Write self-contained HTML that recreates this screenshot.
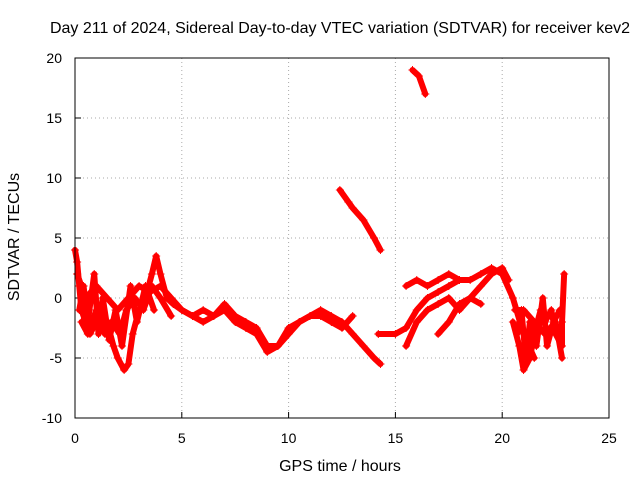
<!DOCTYPE html>
<html><head><meta charset="utf-8"><style>
body{margin:0;background:#fff;}
svg text{font-family:"Liberation Sans",sans-serif;font-size:14px;fill:#000;}
svg text.lab{font-size:16px;}
</style></head><body>
<svg id="chart" width="640" height="480">
<rect width="640" height="480" fill="#fff"/>
<text class="lab" x="340" y="33" text-anchor="middle">Day 211 of 2024, Sidereal Day-to-day VTEC variation (SDTVAR) for receiver kev2</text>
<text class="lab" x="340" y="471" text-anchor="middle">GPS time / hours</text>
<text class="lab" transform="translate(19,237) rotate(-90)" text-anchor="middle">SDTVAR / TECUs</text>
<g id="grid"></g><g id="ticks"></g><g id="marks"></g>
<rect x="75" y="58" width="534" height="360" fill="none" stroke="#000"/>
</svg>
<script>
const xTicks=[0,5,10,15,20,25];
const yTicks=[-10,-5,0,5,10,15,20];
const track1=[[0,4],[0.1,3],[0.2,1],[0.3,-1],[0.5,-2],[0.7,-3],[1,-2],[1.2,-1],[1.5,-2],[1.8,-4],[2,-5],[2.3,-6],[2.5,-5.5],[2.7,-3],[3,-1],[3.3,0],[3.6,2],[3.8,3.5],[4,2],[4.3,0],[4.6,-0.5],[5,-1],[5.5,-1.5],[6,-1],[6.5,-1.5],[7,-0.5],[7.5,-1.5],[8,-2],[8.5,-2.5],[9,-4],[9.5,-4],[10,-3],[10.5,-2],[11,-1.5],[11.5,-1],[12,-1.5],[12.5,-2],[13,-3],[13.5,-4],[14,-5],[14.3,-5.5]];
const track2=[[0.1,2],[0.5,0],[1,1],[1.5,0],[2,-1],[2.5,0],[3,1],[3.5,0.5],[4,1],[4.5,0],[5,-1],[5.5,-1.5],[6,-2],[6.5,-1.5],[7,-1],[7.5,-2],[8,-2.5],[8.5,-3],[9,-4.5],[9.5,-4],[10,-2.5],[10.5,-2],[11,-1.5],[11.5,-1.5],[12,-2],[12.5,-2.5],[13,-1.5]];
const track3=[[0.3,-2],[0.6,-3],[1,-1],[1.4,-3],[1.7,-2],[2.1,-3],[2.4,-1],[2.8,0],[3.2,-1],[3.6,1],[4,0],[4.5,-1.5]];
const track3b=[[0.2,-1],[0.4,1],[0.6,-2],[0.9,2],[1.1,-3],[1.3,0],[1.6,-3.5],[1.9,-1],[2.2,-4],[2.6,1],[2.9,-2],[3.3,1],[3.7,-1]];
const track4=[[12.4,9],[12.8,8],[13,7.5],[13.5,6.5],[14,5],[14.3,4]];
const track5=[[15.8,19],[16.1,18.5],[16.4,17]];
const track6=[[14.2,-3],[15,-3],[15.5,-2.5],[16,-1],[16.5,0],[17,0.5],[17.5,1],[18,1.5],[18.5,1.5],[19,2],[19.5,2.5],[20,2],[20.5,0],[21,-3],[21.5,-5]];
const track7=[[15.5,-4],[16,-2],[16.5,-1],[17,-0.5],[17.5,0],[18,-1],[18.5,0],[19,1],[19.5,2],[20,2.5],[20.3,1.5]];
const track8=[[15.5,1],[16,1.5],[16.5,1],[17,1.5],[17.5,2],[18,1.5]];
const track9=[[17,-3],[17.5,-2],[18,-0.5],[18.5,0],[19,-0.5]];
const track10=[[20.5,-2],[20.8,-4],[21,-6],[21.3,-5],[21.5,-3],[21.8,-1],[22,-2],[22.3,-1],[22.5,-3],[22.8,-4],[22.8,-2],[22.9,2]];
const track11=[[20.6,-1],[21,-1],[21.5,-2],[22,-3],[22.5,-2],[22.8,-5]];
const track12=[[20.7,-3],[20.9,-1],[21.1,-5],[21.3,-2],[21.6,-4],[21.9,0],[22.1,-4],[22.4,-2],[22.7,-1]];
const tracks=[track1,track2,track3,track3b,track4,track5,track6,track7,track8,track9,track10,track11,track12];
const X=v=>75+v*534/25, Y=v=>418-(v+10)*12;
const NS="http://www.w3.org/2000/svg";
function mk(t,a,p){const e=document.createElementNS(NS,t);for(const k in a)e.setAttribute(k,a[k]);p.appendChild(e);return e;}
const g=document.getElementById('grid'),tk=document.getElementById('ticks'),m=document.getElementById('marks');
xTicks.forEach(v=>{
 if(v>0&&v<25){const l=mk('line',{x1:X(v),x2:X(v),y1:58,y2:418,stroke:'#aaa','stroke-dasharray':'1,3'},g);
 
 }
 mk('line',{x1:X(v),x2:X(v),y1:418,y2:412,stroke:'#000'},tk);
 const t=mk('text',{x:X(v),y:443,'text-anchor':'middle'},tk);t.textContent=v;
 
 
});
yTicks.forEach(v=>{
 if(v>-10&&v<20){const l=mk('line',{x1:75,x2:609,y1:Y(v),y2:Y(v),stroke:'#aaa','stroke-dasharray':'1,3'},g);
 
 }
 mk('line',{x1:75,x2:81,y1:Y(v),y2:Y(v),stroke:'#000'},tk);
 const t=mk('text',{x:62,y:Y(v)+5,'text-anchor':'end'},tk);t.textContent=v;
 
 
});
tracks.forEach((tr,i)=>{
 const pl=mk('polyline',{points:tr.map(p=>X(p[0])+','+Y(p[1])).join(' '),fill:'none',stroke:'#f00','stroke-width':6,'stroke-linejoin':'round','stroke-linecap':'round'},m);
 
 
 tr.forEach(p=>{
  const x=X(p[0]),y=Y(p[1]);
  const c=mk('path',{d:`M${x-4},${y}h8M${x},${y-4}v8`,stroke:'#f00','stroke-width':1},m);
  
  
 });
});
</script>
</body></html>
